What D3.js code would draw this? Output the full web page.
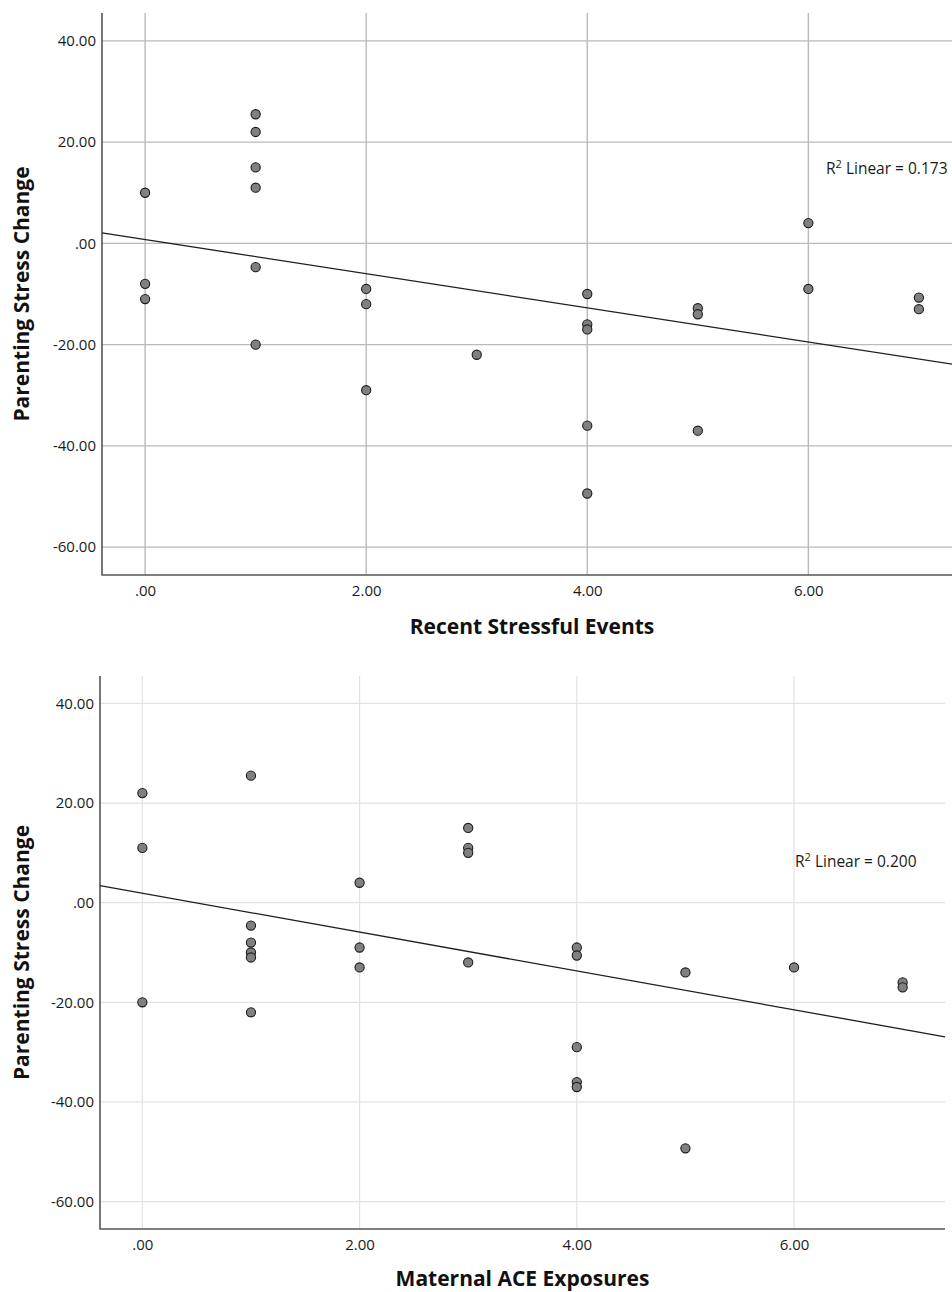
<html>
<head>
<meta charset="utf-8">
<script src="https://cdn.jsdelivr.net/npm/d3@7"></script>
<style>
  body { margin: 0; background: #fff; }
  text { font-family: "Open Sans", sans-serif; }
</style>
</head>
<body>
<svg width="952" height="1292"></svg>
<script>

// top panel: recent stressful events
var eventsX = [0,0,0, 1,1,1,1,1,1, 2,2,2, 3, 4,4,4,4,4, 5,5,5, 6,6, 7,7]
var eventsY = [10,-8,-11, 25.5,22,15,11,-4.7,-20, -9,-12,-29, -22, -10,-16,-17,-36,-49.4, -12.8,-14,-37, 4,-9, -10.7,-13]
var eventsFit = [0.75, -3.37]   // intercept, slope
var eventsR2 = '0.173'

// bottom panel: maternal ACE exposures
var aceX = [0,0,0, 1,1,1,1,1,1, 2,2,2, 3,3,3,3, 4,4,4,4,4, 5,5, 6, 7,7]
var aceY = [22,11,-20, 25.5,-4.6,-8,-10,-11,-22, 4,-9,-13, 15,11,10,-12, -9,-10.6,-29,-36,-37, -14,-49.3, -13, -16,-17]
var aceFit = [1.9, -3.9]
var aceR2 = '0.200'

var xTicks = [0, 2, 4, 6]
var yTicks = [40, 20, 0, -20, -40, -60]
var xDomain = [-0.39, 7.39]
var yDomain = [-65.5, 45.5]

function fmt(v){
    // spss style: .00, 2.00, -20.00
    if (v == 0) return '.00'
    return v.toFixed(2)
}

function panel(cfg){
    var svg = d3.select('svg')
    var g = svg.append('g')

    var x = d3.scaleLinear().domain(xDomain).range([cfg.left, cfg.right])
    var y = d3.scaleLinear().domain(yDomain).range([cfg.bottom, cfg.top])

    // gridlines
    g.selectAll('.hg')
    .data(yTicks)
    .enter()
    .append('line')
    .attr('x1', cfg.left)
    .attr('x2', cfg.right)
    .attr('y1', function(d){ return y(d) })
    .attr('y2', function(d){ return y(d) })
    .attr('stroke', cfg.grid)
    .attr('stroke-width', cfg.gridW)

    g.selectAll('.vg')
    .data(xTicks)
    .enter()
    .append('line')
    .attr('x1', function(d){ return x(d) })
    .attr('x2', function(d){ return x(d) })
    .attr('y1', cfg.top)
    .attr('y2', cfg.bottom)
    .attr('stroke', cfg.grid)
    .attr('stroke-width', cfg.gridW)

    // axes, no tick marks
    var xAxis = d3.axisBottom(x).tickValues(xTicks).tickFormat(fmt).tickSize(0).tickPadding(10)
    var yAxis = d3.axisLeft(y).tickValues(yTicks).tickFormat(fmt).tickSize(0).tickPadding(6)

    var gx = g.append('g').attr('transform', 'translate(0,' + cfg.bottom + ')').call(xAxis)
    var gy = g.append('g').attr('transform', 'translate(' + cfg.left + ',0)').call(yAxis)
    gx.select('.domain').remove()
    gy.select('.domain').remove()
    g.selectAll('.tick text')
    .attr('font-family', '"Open Sans", sans-serif')
    .attr('font-size', 15)
    .attr('fill', '#1a1a1a')

    g.append('path')
    .attr('d', 'M' + cfg.left + ',' + cfg.top + 'V' + cfg.bottom + 'H' + cfg.right)
    .attr('fill', 'none')
    .attr('stroke', '#555')
    .attr('stroke-width', 1.6)

    // fit line
    var x0 = xDomain[0], x1 = xDomain[1]
    g.append('line')
    .attr('x1', x(x0))
    .attr('y1', y(cfg.fit[0] + cfg.fit[1]*x0))
    .attr('x2', x(x1))
    .attr('y2', y(cfg.fit[0] + cfg.fit[1]*x1))
    .attr('stroke', '#1e1e1e')
    .attr('stroke-width', 1.3)

    // points
    g.selectAll('circle')
    .data(cfg.xs)
    .enter()
    .append('circle')
    .attr('cx', function(d){ return x(d) })
    .attr('cy', function(d,i){ return y(cfg.ys[i]) })
    .attr('r', 4.6)
    .attr('fill', '#808080')
    .attr('stroke', '#1a1a1a')
    .attr('stroke-width', 1.1)

    // r squared label
    var lab = g.append('text')
    .attr('x', cfg.labX)
    .attr('y', cfg.labY)
    .attr('font-size', 15.5)
    .attr('fill', '#1a1a1a')
    lab.append('tspan').text('R')
    lab.append('tspan').text('2').attr('font-size', 11).attr('dy', -6)
    lab.append('tspan').text(' Linear = ' + cfg.r2).attr('dy', 6)

    // axis titles
    g.append('text')
    .attr('x', (cfg.left + cfg.right)/2)
    .attr('y', cfg.bottom + cfg.titleGap)
    .attr('text-anchor', 'middle')
    .attr('font-weight', 'bold')
    .attr('font-size', 21)
    .attr('fill', '#111')
    .text(cfg.xTitle)

    g.append('text')
    .attr('transform', 'translate(29,' + (cfg.top + cfg.bottom)/2 + ') rotate(-90)')
    .attr('text-anchor', 'middle')
    .attr('font-weight', 'bold')
    .attr('font-size', 21)
    .attr('fill', '#111')
    .text('Parenting Stress Change')
}

panel({
    xs: eventsX, ys: eventsY, fit: eventsFit, r2: eventsR2,
    left: 102, right: 962, top: 13, bottom: 575,
    grid: '#bababa', gridW: 1.4,
    labX: 826, labY: 174,
    titleGap: 59,
    xTitle: 'Recent Stressful Events'
})

panel({
    xs: aceX, ys: aceY, fit: aceFit, r2: aceR2,
    left: 100, right: 945, top: 676, bottom: 1229,
    grid: '#e2e2e2', gridW: 1.2,
    labX: 795, labY: 867,
    titleGap: 57,
    xTitle: 'Maternal ACE Exposures'
})

</script>
</body>
</html>
